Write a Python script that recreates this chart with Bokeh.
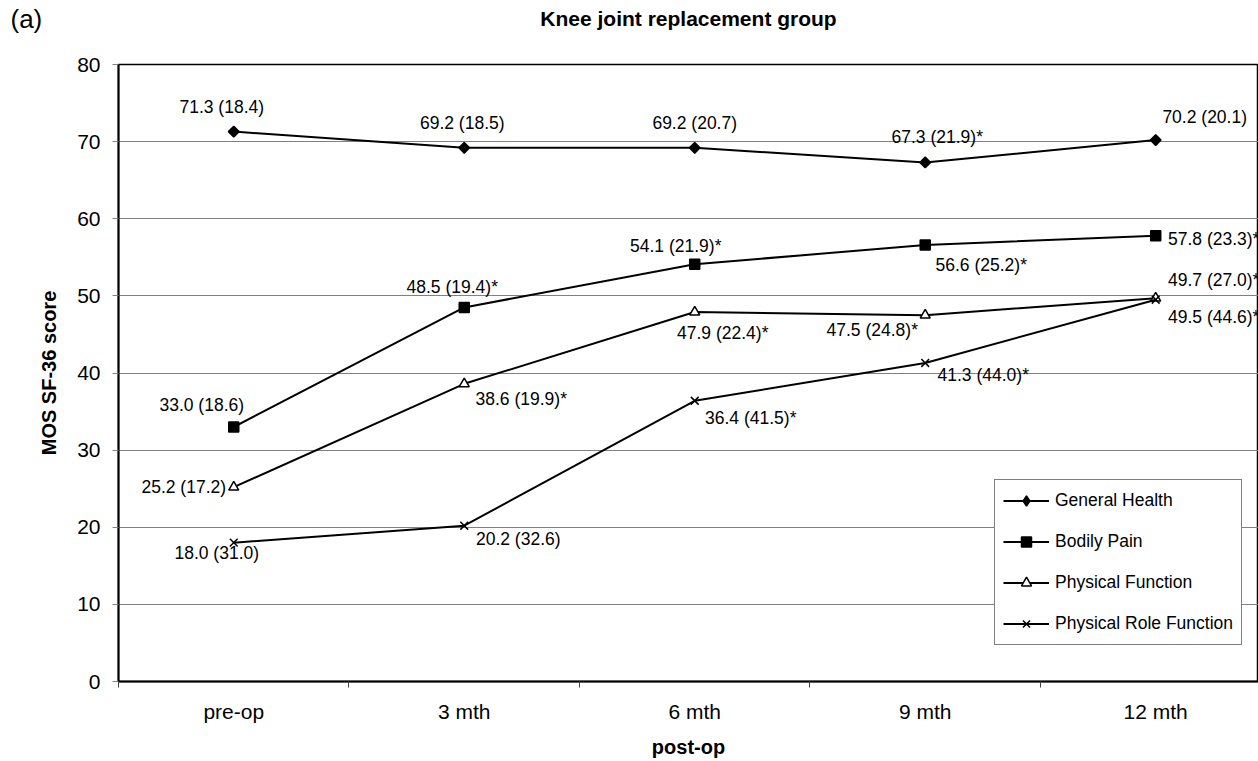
import math
from bokeh.plotting import figure
from bokeh.layouts import column
from bokeh.models import FixedTicker, Legend, LegendItem, ColumnDataSource
from bokeh.core.properties import value
from bokeh.embed import file_html
from bokeh.resources import INLINE

# ---------------- data ----------------
categories = ["pre-op", "3 mth", "6 mth", "9 mth", "12 mth"]
y_ticks = [0, 10, 20, 30, 40, 50, 60, 70, 80]

series_names = ["General Health", "Bodily Pain", "Physical Function", "Physical Role Function"]

general_health = [71.3, 69.2, 69.2, 67.3, 70.2]
general_health_labels = ["71.3 (18.4)", "69.2 (18.5)", "69.2 (20.7)", "67.3 (21.9)*", "70.2 (20.1)"]

bodily_pain = [33.0, 48.5, 54.1, 56.6, 57.8]
bodily_pain_labels = ["33.0 (18.6)", "48.5 (19.4)*", "54.1 (21.9)*", "56.6 (25.2)*", "57.8 (23.3)*"]

physical_function = [25.2, 38.6, 47.9, 47.5, 49.7]
physical_function_labels = ["25.2 (17.2)", "38.6 (19.9)*", "47.9 (22.4)*", "47.5 (24.8)*", "49.7 (27.0)*"]

physical_role = [18.0, 20.2, 36.4, 41.3, 49.5]
physical_role_labels = ["18.0 (31.0)", "20.2 (32.6)", "36.4 (41.5)*", "41.3 (44.0)*", "49.5 (44.6)*"]

title_text = "Knee joint replacement group"
panel_text = "(a)"

# ---------------- label placement (screen px, style only) ----------------
gh_dx = [-12, -2, 0, 12, 49]
gh_dy = [-25, -25, -25, -25, -23]
bp_dx = [-32, -12, -19, 56, 58]
bp_dy = [-22, -20, -18, 20, 3]
pf_dx = [-50, 57, 28, -53, 58]
pf_dy = [0, 15, 21, 15, -18]
pr_dx = [-17, 54, 56, 58, 58]
pr_dy = [10, 13, 17, 12, 17]

FONT = "Liberation Sans"
xs = list(range(len(categories)))
W = 1258
HEAD_H = 52

# ---------------- header (panel letter + title) ----------------
head = figure(width=W, height=HEAD_H, output_backend="svg", toolbar_location=None,
              x_range=(0, W), y_range=(HEAD_H, 0),
              min_border=0, x_axis_type=None, y_axis_type=None)
head.frame_align = False
head.outline_line_color = None
head.xgrid.grid_line_color = None
head.ygrid.grid_line_color = None
head.text(x=[10], y=[18], text=[panel_text], text_align="left", text_baseline="middle",
          text_font=value(FONT), text_font_size="26px", text_color="black")
head.text(x=[688], y=[18], text=[title_text], text_align="center", text_baseline="middle",
          text_font=value(FONT), text_font_size="21px", text_font_style="bold", text_color="black")

# ---------------- main chart ----------------
p = figure(width=W, height=761 - HEAD_H, output_backend="svg", toolbar_location=None,
           x_range=(-0.5, 4.446), y_range=(0, 80),
           min_border_left=118, min_border_right=0, min_border_top=12, min_border_bottom=80)
p.frame_align = False
p.background_fill_color = "white"
p.border_fill_color = "white"
p.outline_line_color = "black"
p.outline_line_width = 1.5

p.xgrid.grid_line_color = None
p.ygrid.ticker = FixedTicker(ticks=y_ticks)
p.ygrid.grid_line_color = "#808080"
p.ygrid.grid_line_width = 1

p.yaxis.ticker = FixedTicker(ticks=y_ticks)
p.yaxis.axis_line_width = 2
p.yaxis.axis_line_color = "black"
p.yaxis.major_tick_out = 6
p.yaxis.major_tick_in = 0
p.yaxis.major_tick_line_color = "#808080"
p.yaxis.minor_tick_line_color = None
p.yaxis.major_label_text_font = FONT
p.yaxis.major_label_text_font_size = "21px"
p.yaxis.major_label_text_color = "black"
p.yaxis.major_label_standoff = 12
p.yaxis.axis_label = "MOS SF-36 score"
p.yaxis.axis_label_text_font = FONT
p.yaxis.axis_label_text_font_style = "bold"
p.yaxis.axis_label_text_font_size = "20px"
p.yaxis.axis_label_text_color = "black"
p.yaxis.axis_label_standoff = 14

p.xaxis.ticker = FixedTicker(ticks=xs, minor_ticks=[i - 0.5 for i in xs] + [len(xs) - 0.5])
p.xaxis.major_label_overrides = {i: c for i, c in zip(xs, categories)}
p.xaxis.axis_line_width = 2
p.xaxis.axis_line_color = "black"
p.xaxis.major_tick_line_color = None
p.xaxis.major_tick_out = 0
p.xaxis.major_tick_in = 0
p.xaxis.minor_tick_line_color = "#404040"
p.xaxis.minor_tick_out = 6
p.xaxis.minor_tick_in = 0
p.xaxis.major_label_text_font = FONT
p.xaxis.major_label_text_font_size = "21px"
p.xaxis.major_label_text_color = "black"
p.xaxis.major_label_standoff = 12
p.xaxis.axis_label = "post-op"
p.xaxis.axis_label_text_font = FONT
p.xaxis.axis_label_text_font_style = "bold"
p.xaxis.axis_label_text_font_size = "20px"
p.xaxis.axis_label_text_color = "black"
p.xaxis.axis_label_standoff = 10

series = [
    (general_health, general_health_labels, gh_dx, gh_dy,
     dict(marker="square", angle=math.pi / 4, size=7.5, fill_color="black"), "diamond"),
    (bodily_pain, bodily_pain_labels, bp_dx, bp_dy,
     dict(marker="square", size=10, fill_color="black"), None),
    (physical_function, physical_function_labels, pf_dx, pf_dy,
     dict(marker="triangle", size=10, fill_color="white"), None),
    (physical_role, physical_role_labels, pr_dx, pr_dy,
     dict(marker="x", size=11, fill_color=None), None),
]

items = []
for name, (vals, labels, dx, dy, mk, legend_marker) in zip(series_names, series):
    src = ColumnDataSource(dict(x=xs, y=vals, lab=labels, dx=dx, dy=dy))
    ln = p.line("x", "y", source=src, line_color="black", line_width=2)
    sc = p.scatter("x", "y", source=src, line_color="black", line_width=1.5, **mk)
    p.text("x", "y", text="lab", source=src, x_offset="dx", y_offset="dy",
           text_align="center", text_baseline="middle",
           text_font=value(FONT), text_font_size="17.5px", text_color="black")
    rends = [ln, sc]
    if legend_marker is not None:
        # legend-only marker (legend draws markers without rotation)
        lg = p.scatter(x=xs, y=[float("nan")] * len(xs), marker=legend_marker,
                       size=10, line_color="black", fill_color="black", line_width=1.5)
        rends = [ln, lg]
    items.append(LegendItem(label=name, renderers=rends))

legend = Legend(items=items, location=(876, 36))
legend.border_line_color = "black"
legend.border_line_width = 1
legend.background_fill_color = "white"
legend.background_fill_alpha = 1
legend.label_text_font = FONT
legend.label_text_font_size = "17.5px"
legend.label_text_color = "black"
legend.padding = 8
legend.margin = 0
legend.spacing = 16
legend.label_height = 25
legend.glyph_height = 25
legend.glyph_width = 46
legend.label_standoff = 6
p.add_layout(legend, "center")

layout = column(head, p, spacing=0)
open("out.html", "w").write(file_html(layout, INLINE))
